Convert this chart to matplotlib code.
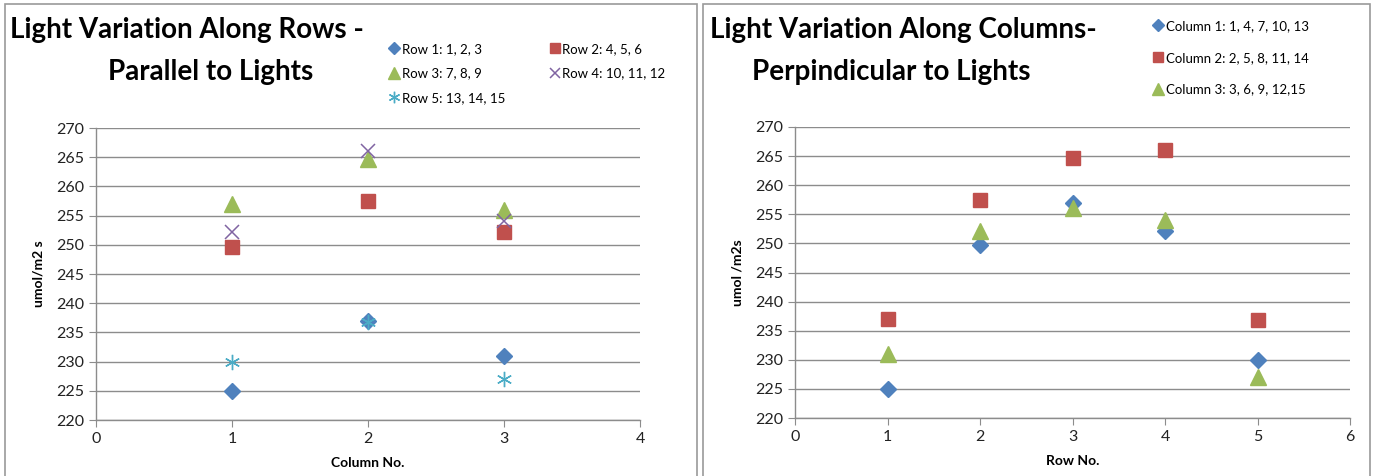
import matplotlib
matplotlib.use("Agg")
import matplotlib.pyplot as plt
from matplotlib.patches import Rectangle

# PAR readings (umol/m2 s) for the 15 positions, grouped by row of lights
row1 = [225.0, 237.0, 231.0]   # positions 1, 2, 3
row2 = [249.7, 257.5, 252.2]   # positions 4, 5, 6
row3 = [257.0, 264.7, 256.0]   # positions 7, 8, 9
row4 = [252.2, 266.0, 254.0]   # positions 10, 11, 12
row5 = [230.0, 236.8, 227.0]   # positions 13, 14, 15
rows = [row1, row2, row3, row4, row5]

column_nos = [1, 2, 3]
row_nos = [1, 2, 3, 4, 5]

row_labels = ["Row 1: 1, 2, 3", "Row 2: 4, 5, 6", "Row 3: 7, 8, 9",
              "Row 4: 10, 11, 12", "Row 5: 13, 14, 15"]
col_labels = ["Column 1: 1, 4, 7, 10, 13", "Column 2: 2, 5, 8, 11, 14",
              "Column 3: 3, 6, 9, 12,15"]

y_ticks = [220, 225, 230, 235, 240, 245, 250, 255, 260, 265, 270]

BLUE, RED, GREEN, PURPLE, CYAN = "#4F81BD", "#C0504D", "#9BBB59", "#8064A2", "#4BACC6"
styles = [
    dict(marker="D", color=BLUE, ms=8, mec=BLUE),
    dict(marker="s", color=RED, ms=10, mec=RED),
    dict(marker="^", color=GREEN, ms=11, mec=GREEN),
    dict(marker="x", color=PURPLE, ms=10, mew=1.1),
    dict(marker=(6, 2, 0), color=CYAN, ms=11, mew=1.0),
]

plt.rcParams["font.family"] = ["Lato", "DejaVu Sans"]
fig = plt.figure(figsize=(13.73, 4.76), dpi=100)

# panel borders
for x0, x1 in [(5, 697), (703, 1370)]:
    fig.patches.append(Rectangle((x0 / 1373, -0.01), (x1 - x0) / 1373, 1 - 4 / 476 + 0.01,
                                 transform=fig.transFigure, fill=False,
                                 ec="#9a9a9a", lw=1.2))


def style_axes(ax, xmax, xlabel, ylabel):
    ax.set_ylim(220, 270)
    ax.set_xlim(0, xmax)
    ax.set_yticks(y_ticks)
    ax.set_xticks(range(0, xmax + 1))
    ax.yaxis.grid(True, color="#8c8c8c", lw=1.0)
    ax.set_axisbelow(True)
    for s in ["top", "right"]:
        ax.spines[s].set_visible(False)
    for s in ["left", "bottom"]:
        ax.spines[s].set_color("#8c8c8c")
        ax.spines[s].set_linewidth(1.0)
    ax.tick_params(axis="both", colors="#8c8c8c", labelcolor="#222222",
                   labelsize=11.5, length=5, direction="out")
    ax.set_xlabel(xlabel, fontsize=10, fontweight="bold", labelpad=8)
    ax.set_ylabel(ylabel, fontsize=10, fontweight="bold", labelpad=8)


# Left: variation along rows
ax1 = fig.add_axes([96 / 1373, 1 - 420 / 476, 544 / 1373, 292 / 476])
handles = []
for vals, lab, st in zip(rows, row_labels, styles):
    h, = ax1.plot(column_nos, vals, ls="none", label=lab, **st)
    handles.append(h)
style_axes(ax1, 4, "Column No.", "umol/m2 s")
order = [0, 2, 4, 1, 3]
fig.legend([handles[i] for i in order], [row_labels[i] for i in order],
           ncol=2, loc="upper left", bbox_to_anchor=(376 / 1373, 1 - 31 / 476),
           frameon=False, fontsize=9.5, handletextpad=0.1, handlelength=1.0,
           columnspacing=3.2, labelspacing=0.95, markerscale=0.75)
fig.text(10 / 1373, 1 - 30 / 476, "Light Variation Along Rows -", fontsize=20,
         fontweight="bold", va="center", ha="left")
fig.text(211 / 1373, 1 - 72 / 476, "Parallel to Lights", fontsize=20,
         fontweight="bold", va="center", ha="center")

# Right: variation along columns
ax2 = fig.add_axes([795 / 1373, 1 - 418 / 476, 555 / 1373, 291 / 476])
handles2 = []
for j in range(3):
    col_vals = [r[j] for r in rows]
    h, = ax2.plot(row_nos, col_vals, ls="none", label=col_labels[j], **styles[j])
    handles2.append(h)
style_axes(ax2, 6, "Row No.", "umol /m2s")
fig.legend(handles2, col_labels, loc="upper left",
           bbox_to_anchor=(1140 / 1373, 1 - 8 / 476), frameon=False,
           fontsize=9.5, handletextpad=0.1, handlelength=1.0,
           labelspacing=1.5, markerscale=0.75)
fig.text(710 / 1373, 1 - 30 / 476, "Light Variation Along Columns-", fontsize=20,
         fontweight="bold", va="center", ha="left")
fig.text(891 / 1373, 1 - 72 / 476, "Perpindicular to Lights", fontsize=20,
         fontweight="bold", va="center", ha="center")

fig.savefig("out.png", dpi=100, facecolor="white")
